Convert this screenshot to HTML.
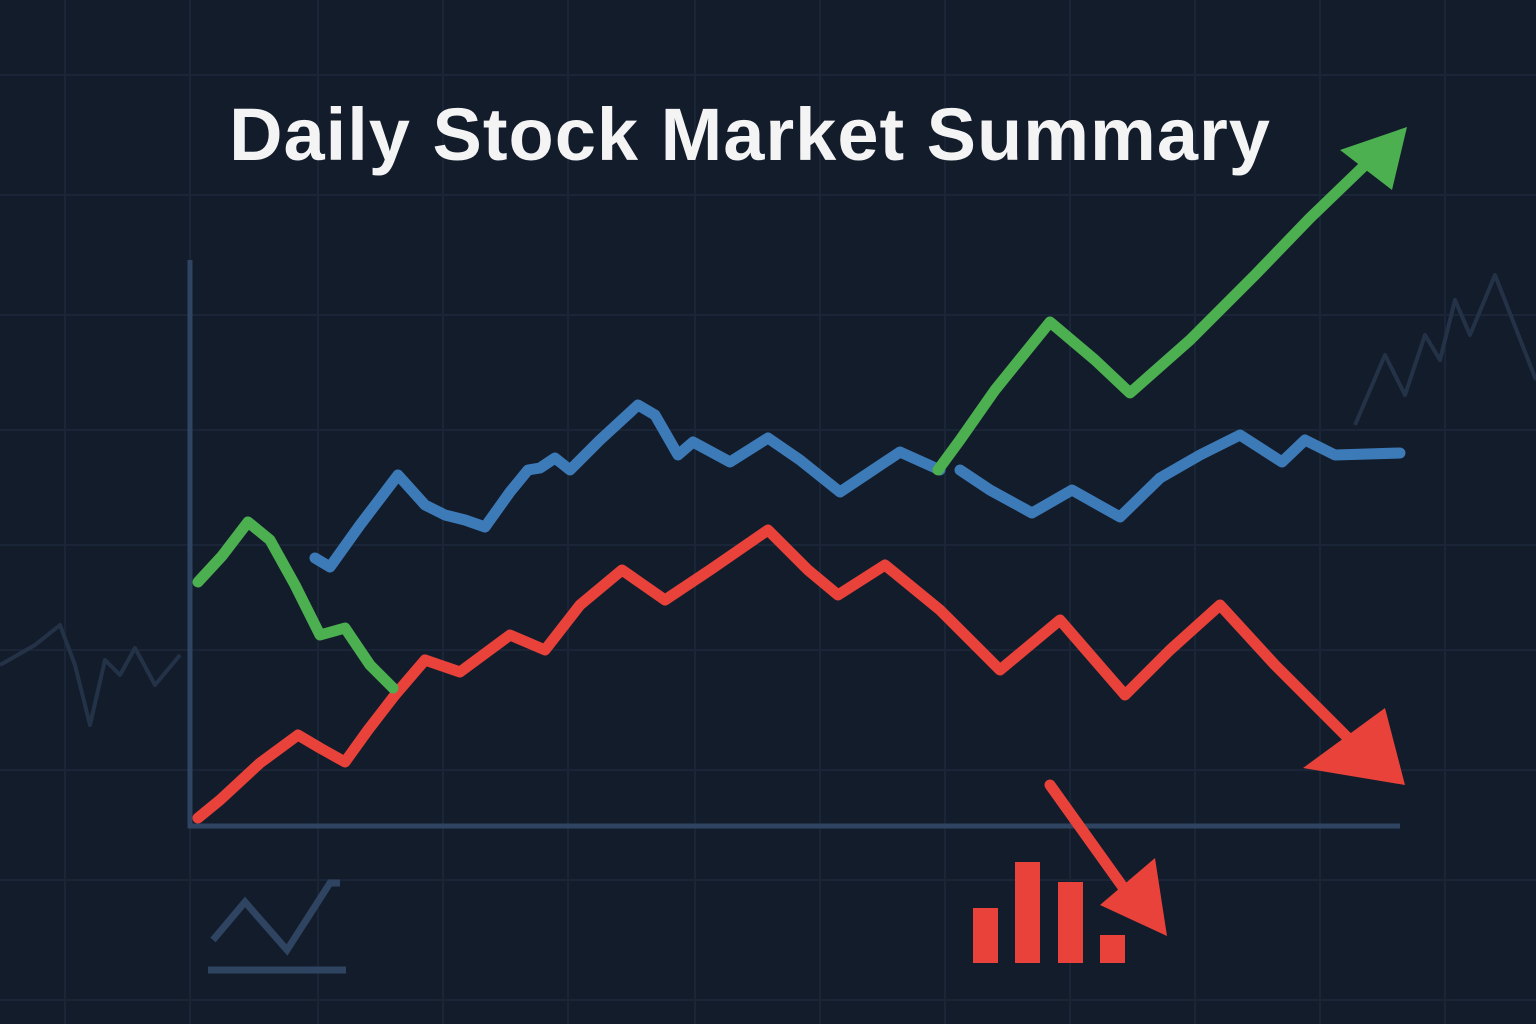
<!DOCTYPE html>
<html><head><meta charset="utf-8"><style>
html,body{margin:0;padding:0;background:#131c2b;}
svg{display:block}
</style></head><body>
<svg width="1536" height="1024" viewBox="0 0 1536 1024" xmlns="http://www.w3.org/2000/svg">
<rect width="1536" height="1024" fill="#131c2b"/>
<g stroke="#1a2537" stroke-width="2">
<line x1="65" y1="0" x2="65" y2="1024"/><line x1="190" y1="0" x2="190" y2="1024"/><line x1="318" y1="0" x2="318" y2="1024"/><line x1="443" y1="0" x2="443" y2="1024"/><line x1="568" y1="0" x2="568" y2="1024"/><line x1="695" y1="0" x2="695" y2="1024"/><line x1="820" y1="0" x2="820" y2="1024"/><line x1="945" y1="0" x2="945" y2="1024"/><line x1="1070" y1="0" x2="1070" y2="1024"/><line x1="1195" y1="0" x2="1195" y2="1024"/><line x1="1320" y1="0" x2="1320" y2="1024"/><line x1="1445" y1="0" x2="1445" y2="1024"/>
<line x1="0" y1="75" x2="1536" y2="75"/><line x1="0" y1="195" x2="1536" y2="195"/><line x1="0" y1="315" x2="1536" y2="315"/><line x1="0" y1="430" x2="1536" y2="430"/><line x1="0" y1="545" x2="1536" y2="545"/><line x1="0" y1="650" x2="1536" y2="650"/><line x1="0" y1="770" x2="1536" y2="770"/><line x1="0" y1="880" x2="1536" y2="880"/><line x1="0" y1="1000" x2="1536" y2="1000"/>
</g>
<g fill="none" stroke="#243247" stroke-width="4" stroke-linejoin="round">
<polyline points="0,665 35,645 60,625 75,665 90,725 105,660 120,675 135,648 155,685 180,655"/>
<polyline points="1355,425 1385,355 1405,395 1425,335 1440,360 1455,300 1470,335 1495,275 1536,380"/>
</g>
<text x="750" y="160" text-anchor="middle" font-family="Liberation Sans, sans-serif" font-weight="bold" font-size="74" letter-spacing="1" fill="#f4f4f4">Daily Stock Market Summary</text>
<g stroke="#2e4460" stroke-width="5" fill="none">
<line x1="190" y1="260" x2="190" y2="828"/>
<line x1="188" y1="826" x2="1400" y2="826"/>
<polyline points="213,940 245,902 287,950 330,883 340,883" stroke-width="7"/>
<line x1="208" y1="970" x2="346" y2="970" stroke-width="7"/>
</g>
<g fill="none" stroke-width="11" stroke-linejoin="round" stroke-linecap="round">
<polyline stroke="#3d7ab8" points="315,558 330,567 360,525 398,475 425,505 445,515 465,520 485,527 510,492 528,470 540,468 555,458 570,470 600,440 638,405 655,415 678,455 693,442 730,462 768,438 800,460 840,492 870,472 900,452 940,470"/>
<polyline stroke="#3d7ab8" points="960,470 990,490 1032,513 1072,490 1120,517 1160,478 1200,455 1240,435 1282,462 1305,440 1335,455 1400,453"/>
<polyline stroke="#e8423a" points="198,818 220,800 260,763 298,735 320,748 345,762 368,730 395,695 425,660 460,672 510,635 545,650 580,605 622,570 665,600 710,570 768,530 808,570 838,595 885,565 940,610 1000,670 1060,620 1125,695 1170,650 1220,605 1275,665 1350,740"/>
<polyline stroke="#4caf50" points="198,582 222,556 248,522 270,540 295,585 320,635 345,628 370,665 393,688"/>
<polyline stroke="#4caf50" points="938,470 960,440 995,390 1050,322 1095,360 1130,393 1190,340 1255,275 1310,218 1365,165"/>
<line stroke="#e8423a" x1="1050" y1="785" x2="1125" y2="890"/>
</g>
<polygon fill="#4caf50" points="1340,150 1392,190 1407,127"/>
<polygon fill="#e8423a" points="1303,768 1385,708 1405,785"/>
<polygon fill="#e8423a" points="1100,905 1155,858 1167,936"/>
<g fill="#e8423a">
<rect x="973" y="908" width="25" height="55"/>
<rect x="1015" y="862" width="25" height="101"/>
<rect x="1058" y="882" width="25" height="81"/>
<rect x="1100" y="935" width="25" height="28"/>
</g>
</svg>
</body></html>
